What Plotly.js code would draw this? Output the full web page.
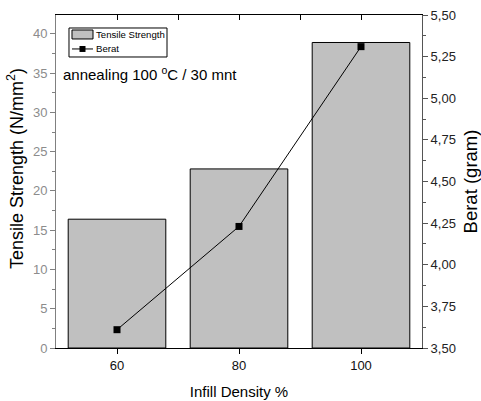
<!DOCTYPE html>
<html>
<head>
<meta charset="utf-8">
<script src="https://cdn.plot.ly/plotly-3.0.1.min.js"></script>
<style>html,body{margin:0;padding:0;background:#fff;}#chart{width:481px;height:401px;}</style>
</head>
<body>
<div id="chart"></div>
<script>
var infill = [60, 80, 100];
var tensile = [16.4, 22.8, 38.9];
var berat = [3.61, 4.23, 5.31];
var seriesNames = ['Tensile Strength', 'Berat'];
var topTicks = [60, 70, 80, 90, 100];

var traces = [
  {
    type: 'bar', name: seriesNames[0], x: infill, y: tensile, width: 16,
    marker: {color: '#c0c0c0', line: {color: '#000', width: 1}},
    xaxis: 'x', yaxis: 'y', showlegend: false
  },
  {
    type: 'scatter', mode: 'lines+markers', name: seriesNames[1], x: infill, y: berat,
    line: {color: '#000', width: 1}, marker: {symbol: 'square', size: 7, color: '#000'},
    xaxis: 'x2', yaxis: 'y2', showlegend: false
  }
];

var FONT = 'Liberation Sans, Arial, sans-serif';

var layout = {
  width: 481, height: 401,
  margin: {l: 56, r: 59, t: 15, b: 53},
  paper_bgcolor: '#fff', plot_bgcolor: '#fff',
  separators: ',.',
  font: {family: FONT, color: '#000', size: 13},
  showlegend: false,
  bargap: 0,
  xaxis: {
    range: [50, 110], tickvals: infill, ticks: 'outside', ticklen: 5, tickcolor: '#000',
    showline: true, linecolor: '#000', linewidth: 1, showgrid: false, zeroline: false,
    tickfont: {size: 13, color: '#111'},
    title: {text: 'Infill Density %', font: {size: 15}, standoff: 14}
  },
  xaxis2: {
    range: [50, 110], overlaying: 'x', side: 'top', anchor: 'y2',
    tickvals: topTicks, ticks: 'inside', ticklen: 5, tickcolor: '#000',
    showticklabels: false, showline: true, linecolor: '#000', linewidth: 1,
    showgrid: false, zeroline: false
  },
  yaxis: {
    range: [0, 42.4], dtick: 5, tick0: 0, ticks: 'outside', ticklen: 5, tickcolor: '#808080',
    minor: {dtick: 2.5, ticks: 'outside', ticklen: 3, tickcolor: '#808080', showgrid: false},
    showline: true, linecolor: '#808080', linewidth: 1, showgrid: false, zeroline: false,
    tickfont: {size: 13, color: '#8c8c8c'}
  },
  yaxis2: {
    range: [3.5, 5.5], dtick: 0.25, tick0: 3.5, tickformat: '.2f', overlaying: 'y', side: 'right', anchor: 'x',
    ticks: 'outside', ticklen: 5, tickcolor: '#555',
    minor: {dtick: 0.125, ticks: 'outside', ticklen: 3, tickcolor: '#555', showgrid: false},
    showline: true, linecolor: '#555', linewidth: 1, showgrid: false, zeroline: false,
    tickfont: {size: 13, color: '#222'},
    title: {text: 'Berat (gram)', font: {size: 18.5}, standoff: 10}
  },
  shapes: [
    // legend frame
    {type: 'rect', xref: 'paper', yref: 'paper', x0: 0.0355, x1: 0.3033, y0: 0.8739, y1: 0.961,
     line: {color: '#000', width: 1}, fillcolor: '#fff', layer: 'above'},
    // bar swatch
    {type: 'rect', xref: 'paper', yref: 'paper', x0: 0.0437, x1: 0.1011, y0: 0.928, y1: 0.955,
     line: {color: '#000', width: 1}, fillcolor: '#c0c0c0', layer: 'above'},
    // line swatch
    {type: 'line', xref: 'paper', yref: 'paper', x0: 0.0437, x1: 0.1011, y0: 0.898, y1: 0.898,
     line: {color: '#000', width: 1}, layer: 'above'},
    // marker swatch
    {type: 'rect', xref: 'paper', yref: 'paper', x0: 0.0642, x1: 0.0806, y0: 0.889, y1: 0.907,
     line: {color: '#000', width: 0}, fillcolor: '#000', layer: 'above'}
  ],
  annotations: [
    {xref: 'paper', yref: 'paper', x: 0.105, y: 0.94, xanchor: 'left', yanchor: 'middle',
     text: seriesNames[0], showarrow: false, font: {size: 9.6, color: '#000'}},
    {xref: 'paper', yref: 'paper', x: 0.105, y: 0.898, xanchor: 'left', yanchor: 'middle',
     text: seriesNames[1], showarrow: false, font: {size: 9.6, color: '#000'}},
    {xref: 'paper', yref: 'paper', x: 0.015, y: 0.823, xanchor: 'left', yanchor: 'middle',
     text: 'annealing 100 <sup>o</sup>C / 30 mnt', showarrow: false, font: {size: 15, color: '#000'}},
    {xref: 'paper', yref: 'paper', x: -0.112, y: 0.5375, xanchor: 'center', yanchor: 'middle', textangle: -90,
     text: 'Tensile Strength (N/mm<sup>2</sup>)', showarrow: false, font: {size: 18, color: '#000'}}
  ]
};

Plotly.newPlot('chart', traces, layout, {displayModeBar: false, staticPlot: true});
</script>
</body>
</html>
